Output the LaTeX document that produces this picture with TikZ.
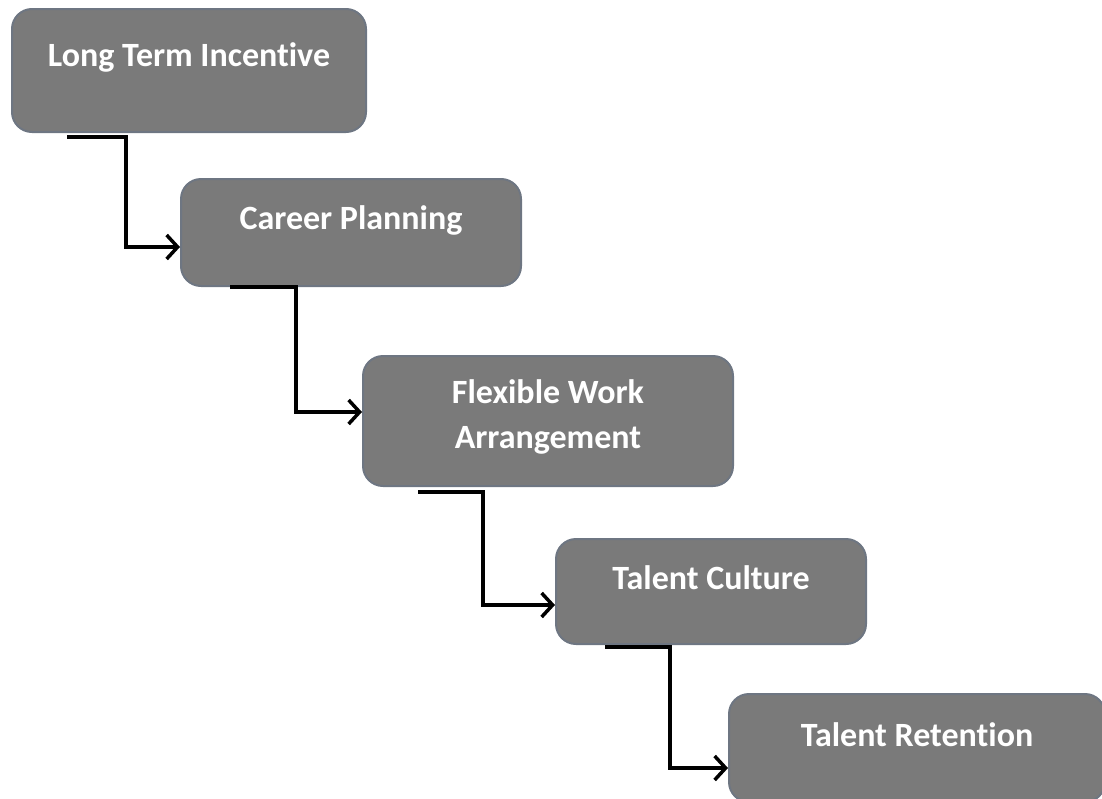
\documentclass[tikz,border=0pt]{standalone}
\usepackage{fontspec}
\setmainfont{Carlito}[Ligatures=CommonOff]
\usetikzlibrary{arrows.meta,calc}
\definecolor{boxfill}{RGB}{122,122,122}
\definecolor{boxedge}{RGB}{110,118,130}
\tikzset{
  stepbox/.style={draw=boxedge, line width=2pt, fill=boxfill, rounded corners=20pt,
    anchor=north west, inner sep=0pt},
  lbl/.style={text=white, font=\fontsize{34}{45}\selectfont\bfseries, align=center, inner sep=0pt},
  conn/.style={draw=black, line width=3.5pt, -{Straight Barb[length=11pt,width=24pt,line width=3.5pt]}}
}
\begin{document}
\begin{tikzpicture}[x=1pt,y=-1pt]
\useasboundingbox (0,0) rectangle (1102,798);
% boxes
\node[stepbox, minimum width=354pt, minimum height=123pt] (b1) at (11,8) {};
\node[stepbox, minimum width=340pt, minimum height=107pt] (b2) at (180,178) {};
\node[stepbox, minimum width=370pt, minimum height=130pt] (b3) at (362,355) {};
\node[stepbox, minimum width=310pt, minimum height=105pt] (b4) at (555,538) {};
\node[stepbox, minimum width=376pt, minimum height=108pt] (b5) at (728,693) {};
% labels
\node[lbl] (t1) at ($(b1.north)+(0,49)$) {Long Term Incentive};
\node[lbl] (t2) at ($(b2.north)+(0,42)$) {Career Planning};
\node[lbl] (t3) at ($(b3.north)+(0,62)$) {Flexible Work\\Arrangement};
\node[lbl] (t4) at ($(b4.north)+(0,40)$) {Talent Culture};
\node[lbl] (t5) at ($(b5.north)+(0,42)$) {Talent Retention};
% connector coordinates
\coordinate (s1) at ($(b1.south west)+(56,4)$);
\coordinate (s2) at ($(b2.south west)+(50,0)$);
\coordinate (s3) at ($(b3.south west)+(56,5)$);
\coordinate (s4) at ($(b4.south west)+(50,2)$);
% connectors
\draw[conn] (s1) -- ++(59,0) |- ($(b2.north west)+(0,69)$);
\draw[conn] (s2) -- ++(66,0) |- ($(b3.north west)+(0,57)$);
\draw[conn] (s3) -- ++(65,0) |- ($(b4.north west)+(0,67)$);
\draw[conn] (s4) -- ++(65,0) |- ($(b5.north west)+(0,75)$);
\end{tikzpicture}
\end{document}
